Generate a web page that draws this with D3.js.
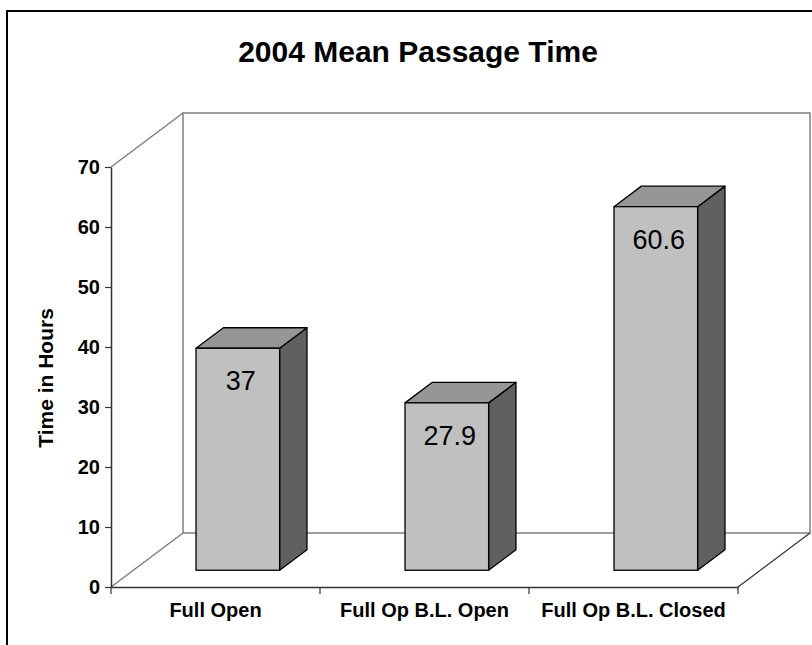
<!DOCTYPE html>
<html>
<head>
<meta charset="utf-8">
<script src="https://cdn.jsdelivr.net/npm/d3@7"></script>
<style>
  body { margin: 0; background: #fff; }
  text { font-family: Arial, "Liberation Sans", sans-serif; }
</style>
</head>
<body>
<div class="chart"></div>
<script>
// data
const categories = ["Full Open", "Full Op B.L. Open", "Full Op B.L. Closed"];
const values = [37, 27.9, 60.6];
const yTicks = [0, 10, 20, 30, 40, 50, 60, 70];

const W = 812, H = 645;

const svg = d3.select(".chart")
  .append("svg")
  .attr("width", W)
  .attr("height", H);

// outer frame (runs off the right and bottom edge)
svg.append("rect")
  .attr("x", 7).attr("y", 11)
  .attr("width", 830).attr("height", 680)
  .attr("fill", "#fff")
  .attr("stroke", "#000")
  .attr("stroke-width", 2);

// scales (front plane)
const x = d3.scaleBand().domain(categories).range([111, 738]);
const y = d3.scaleLinear().domain([0, 70]).range([587, 167]);

// depth of the 3d box
const depthX = 72, depthY = -54;
const barFront = 0.31, barDepth = 0.38;   // fraction of total depth
const barW = x.bandwidth() * 0.4;

const wallColor = "#808080";

// back wall + floor + side lines
const y0 = y(0), yTop = y(70);
const xL = x.range()[0], xR = x.range()[1];
const walls = svg.append("g").attr("fill", "none").attr("stroke", wallColor).attr("stroke-width", 1.5);
// back wall outline
walls.append("path").attr("d",
  `M${xL + depthX},${y0 + depthY} V${yTop + depthY} H${xR + depthX} V${y0 + depthY} Z`);
// left side diagonals
walls.append("line")
  .attr("x1", xL).attr("y1", yTop).attr("x2", xL + depthX).attr("y2", yTop + depthY);
walls.append("line")
  .attr("x1", xL).attr("y1", y0).attr("x2", xL + depthX).attr("y2", y0 + depthY);
// floor right edge
walls.append("line")
  .attr("x1", xR).attr("y1", y0).attr("x2", xR + depthX).attr("y2", y0 + depthY)
  .attr("stroke", "#333").attr("stroke-width", 1.2);

// bars
const bars = svg.append("g").selectAll("g.bar")
  .data(categories.map((c, i) => ({ cat: c, value: values[i] })))
  .join("g")
  .attr("class", "bar");

const ox = depthX * barFront, oy = depthY * barFront;
const bx = depthX * barDepth, by = depthY * barDepth;

function fx(d) { return x(d.cat) + (x.bandwidth() - barW) / 2 + ox; }

// side face
bars.append("path")
  .attr("d", d => {
    const x1 = fx(d) + barW, yt = y(d.value) + oy, yb = y(0) + oy;
    return `M${x1},${yb} L${x1 + bx},${yb + by} L${x1 + bx},${yt + by} L${x1},${yt} Z`;
  })
  .attr("fill", "#606060").attr("stroke", "#000").attr("stroke-width", 1.3)
  .attr("stroke-linejoin", "round");

// top face
bars.append("path")
  .attr("d", d => {
    const x0 = fx(d), yt = y(d.value) + oy;
    return `M${x0},${yt} L${x0 + bx},${yt + by} L${x0 + barW + bx},${yt + by} L${x0 + barW},${yt} Z`;
  })
  .attr("fill", "#969696").attr("stroke", "#000").attr("stroke-width", 1.3)
  .attr("stroke-linejoin", "round");

// front face
bars.append("rect")
  .attr("x", d => fx(d))
  .attr("y", d => y(d.value) + oy)
  .attr("width", barW)
  .attr("height", d => y(0) - y(d.value))
  .attr("fill", "#c0c0c0").attr("stroke", "#000").attr("stroke-width", 1.3);

// value labels
bars.append("text")
  .attr("x", d => fx(d) + barW / 2 + 3)
  .attr("y", d => y(d.value) + oy + 42)
  .attr("text-anchor", "middle")
  .attr("font-size", 27)
  .attr("fill", "#000")
  .text(d => d.value);

// y axis
const yAxis = d3.axisLeft(y)
  .tickValues(yTicks)
  .tickSize(6)
  .tickSizeOuter(0)
  .tickPadding(5);

const yAxisG = svg.append("g")
  .attr("class", "axis y-axis")
  .attr("transform", `translate(${xL},0)`)
  .call(yAxis);
yAxisG.select(".domain").attr("stroke", "#333").attr("stroke-width", 1.5);
yAxisG.selectAll(".tick line").attr("stroke", "#333").attr("stroke-width", 1.2);
yAxisG.selectAll(".tick text")
  .attr("font-size", 20)
  .attr("font-weight", "bold")
  .attr("fill", "#000")
  .attr("font-family", "Arial, 'Liberation Sans', sans-serif");

// x axis: labels centered, ticks at category boundaries
const xAxis = d3.axisBottom(x).tickSize(0).tickSizeOuter(0).tickPadding(16);
const xAxisG = svg.append("g")
  .attr("class", "axis x-axis")
  .attr("transform", `translate(0,${y0})`)
  .call(xAxis);
xAxisG.select(".domain").attr("stroke", "#333").attr("stroke-width", 1.5);
xAxisG.selectAll(".tick text")
  .attr("font-size", 20)
  .attr("font-weight", "bold")
  .attr("fill", "#000")
  .attr("font-family", "Arial, 'Liberation Sans', sans-serif");

const edges = categories.map(c => x(c)).concat([xR]);
xAxisG.selectAll("line.edge")
  .data(edges)
  .join("line")
  .attr("class", "edge")
  .attr("x1", d => d).attr("x2", d => d)
  .attr("y1", 0).attr("y2", 7)
  .attr("stroke", "#333").attr("stroke-width", 1.2);

// titles
svg.append("text")
  .attr("x", 418).attr("y", 62)
  .attr("text-anchor", "middle")
  .attr("font-size", 30)
  .attr("font-weight", "bold")
  .text("2004 Mean Passage Time");

svg.append("text")
  .attr("transform", "translate(53,378) rotate(-90)")
  .attr("text-anchor", "middle")
  .attr("font-size", 21)
  .attr("font-weight", "bold")
  .text("Time in Hours");
</script>
</body>
</html>
